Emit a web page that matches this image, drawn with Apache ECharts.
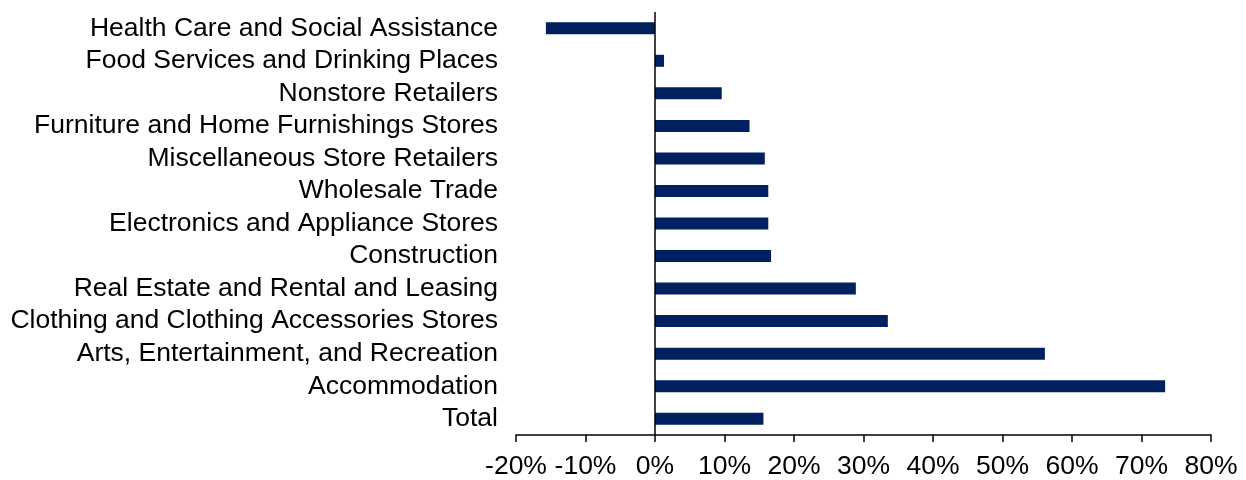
<!DOCTYPE html>
<html>
<head>
<meta charset="utf-8">
<script src="https://cdn.jsdelivr.net/npm/echarts@6/dist/echarts.min.js"></script>
<style>html,body{margin:0;padding:0;background:#fff;}#c{width:1246px;height:480px;}</style>
</head>
<body>
<div id="c"></div>
<script>
const categories = [
  "Total",
  "Accommodation",
  "Arts, Entertainment, and Recreation",
  "Clothing and Clothing Accessories Stores",
  "Real Estate and Rental and Leasing",
  "Construction",
  "Electronics and Appliance Stores",
  "Wholesale Trade",
  "Miscellaneous Store Retailers",
  "Furniture and Home Furnishings Stores",
  "Nonstore Retailers",
  "Food Services and Drinking Places",
  "Health Care and Social Assistance"
];
const values = [15.6, 73.4, 56.1, 33.5, 28.9, 16.7, 16.3, 16.3, 15.8, 13.6, 9.6, 1.3, -15.7];
const xMin = -20, xMax = 80, xStep = 10;

const FONT = 'Liberation Sans, Arial, sans-serif';
const chart = echarts.init(document.getElementById('c'));
chart.setOption({
  animation: false,
  grid: { left: 516, right: 35, top: 12, bottom: 44, containLabel: false },
  xAxis: {
    type: 'value', min: xMin, max: xMax, interval: xStep,
    axisLine: { show: true, onZero: false, lineStyle: { color: '#000', width: 1.5 } },
    axisTick: { show: true, length: 7, lineStyle: { color: '#000', width: 1.5 } },
    splitLine: { show: false },
    axisLabel: { formatter: v => v + '%', color: '#000', fontSize: 26.5, fontFamily: FONT, margin: 18, hideOverlap: false }
  },
  yAxis: {
    type: 'category', data: categories,
    axisLine: { show: false, onZero: false },
    axisTick: { show: false },
    axisLabel: { interval: 0, hideOverlap: false, color: '#000', fontSize: 26.5, fontFamily: FONT, margin: 18, lineHeight: 30, padding: [6, 0, 0, 0] }
  },
  series: [{
    type: 'bar', data: values, barWidth: 12,
    itemStyle: { color: '#002060' },
    markLine: {
      silent: true, symbol: 'none', label: { show: false },
      lineStyle: { color: '#000', type: 'solid', width: 1.5 },
      data: [{ xAxis: 0 }]
    }
  }]
});
</script>
</body>
</html>
